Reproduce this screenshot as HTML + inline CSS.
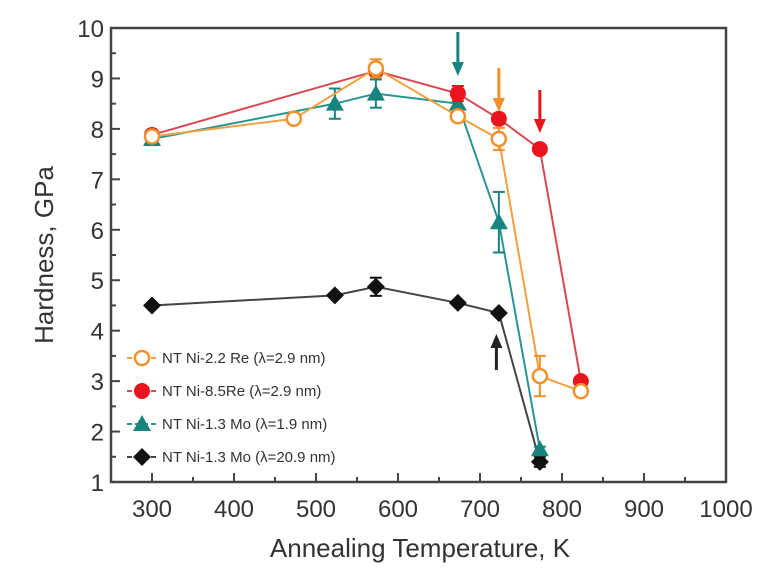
<!DOCTYPE html>
<html><head><meta charset="utf-8"><style>
html,body{margin:0;padding:0;background:#fff;}
svg{display:block;font-family:"Liberation Sans",Arial,sans-serif;}
</style></head><body>
<svg id="chart" width="781" height="588" viewBox="0 0 781 588">
<g id="plot"></g>
</svg>
<script>
const xTicks=[300,400,500,600,700,800,900,1000];
const yTicks=[1,2,3,4,5,6,7,8,9,10];
const seriesNames=["NT Ni-2.2 Re (\u03bb=2.9 nm)","NT Ni-8.5Re (\u03bb=2.9 nm)","NT Ni-1.3 Mo (\u03bb=1.9 nm)","NT Ni-1.3 Mo (\u03bb=20.9 nm)"];
const reX=[300,473,573,673,723,773,823];
const reY=[7.85,8.2,9.2,8.25,7.8,3.1,2.8];
const reErr=[0,0,0.18,0.1,0.22,0.4,0.05];
const re85X=[300,573,673,723,773,823];
const re85Y=[7.88,9.15,8.7,8.2,7.6,3.0];
const re85Err=[0,0,0.15,0.1,0,0];
const moX=[300,523,573,673,723,773];
const moY=[7.8,8.5,8.7,8.5,6.15,1.65];
const moErr=[0,0.3,0.28,0.1,0.6,0.05];
const mo2X=[300,523,573,673,723,773];
const mo2Y=[4.5,4.7,4.87,4.55,4.35,1.4];
const mo2Err=[0,0,0.18,0,0,0.1];
const arrowX=[673,723,773,723];

const L=111,R=726,T=28,B=482;
const sx=v=>L+(v-250)/750*(R-L);
const sy=v=>B-(v-1)/9*(B-T);
const NS="http://www.w3.org/2000/svg";
const g=document.getElementById('plot');
function mk(tag,attrs,parent){const e=document.createElementNS(NS,tag);for(const k in attrs)e.setAttribute(k,attrs[k]);(parent||g).appendChild(e);return e;}

let fr=mk('rect',{x:L,y:T,width:R-L,height:B-T,fill:'none',stroke:'#444','stroke-width':2.5});



xTicks.forEach(t=>{
  const x=sx(t);
  let tk=mk('line',{x1:x,x2:x,y1:B,y2:B-9,stroke:'#444','stroke-width':2});
  
  
  let m=mk('line',{x1:sx(t-50),x2:sx(t-50),y1:B,y2:B-5,stroke:'#444','stroke-width':2});
  
  
  let tx=mk('text',{x:x,y:B+35,'text-anchor':'middle','font-size':24,fill:'#333'});
  tx.textContent=t;
  
  
});
yTicks.forEach(t=>{
  const y=sy(t);
  let tk=mk('line',{x1:L,x2:L+9,y1:y,y2:y,stroke:'#444','stroke-width':2});
  
  
  if(t<10){let m=mk('line',{x1:L,x2:L+5,y1:sy(t+0.5),y2:sy(t+0.5),stroke:'#444','stroke-width':2});
  
  }
  let tx=mk('text',{x:L-7,y:y+9,'text-anchor':'end','font-size':24,fill:'#333'});
  tx.textContent=t;
  
  
});
let xt=mk('text',{x:420,y:557,'text-anchor':'middle','font-size':26,fill:'#333'});
xt.textContent='Annealing Temperature, K';


let yt=mk('text',{x:0,y:0,'text-anchor':'middle','font-size':26,fill:'#333',transform:'translate(53,255) rotate(-90)'});
yt.textContent='Hardness, GPa';



function marker(type,x,y,color,parent){
  let e;
  if(type==='open') e=mk('circle',{cx:x,cy:y,r:7,fill:'#fff',stroke:color,'stroke-width':2.5},parent);
  else if(type==='ball') e=mk('circle',{cx:x,cy:y,r:8,fill:color},parent);
  else if(type==='tri') e=mk('polygon',{points:`${x},${y-9} ${x-9},${y+7} ${x+9},${y+7}`,fill:color},parent);
  else e=mk('polygon',{points:`${x},${y-9} ${x+9},${y} ${x},${y+9} ${x-9},${y}`,fill:color},parent);
  return e;
}
const series=[
 {xs:reX,ys:reY,err:reErr,c:'#f0912a',lc:'#f2a040',t:'open',n:'series-ni-2-2-re'},
 {xs:re85X,ys:re85Y,err:re85Err,c:'#e8141e',lc:'#d84a52',t:'ball',n:'series-ni-8-5-re'},
 {xs:moX,ys:moY,err:moErr,c:'#17857f',lc:'#2a9590',t:'tri',n:'series-ni-1-3-mo-1-9'},
 {xs:mo2X,ys:mo2Y,err:mo2Err,c:'#111',lc:'#444',t:'dia',n:'series-ni-1-3-mo-20-9'}
];
[3,2,1,0].forEach(i=>{
  const s=series[i];
  const sg=mk('g',{});
  
  
  const pts=s.xs.map((x,j)=>sx(x)+','+sy(s.ys[j])).join(' ');
  mk('polyline',{points:pts,fill:'none',stroke:s.lc,'stroke-width':2},sg);
  s.xs.forEach((x,j)=>{
    if(s.err[j]>0){
      const X=sx(x),y1=sy(s.ys[j]+s.err[j]),y2=sy(s.ys[j]-s.err[j]);
      mk('line',{x1:X,x2:X,y1:y1,y2:y2,stroke:s.c,'stroke-width':2},sg);
      mk('line',{x1:X-6,x2:X+6,y1:y1,y2:y1,stroke:s.c,'stroke-width':2},sg);
      mk('line',{x1:X-6,x2:X+6,y1:y2,y2:y2,stroke:s.c,'stroke-width':2},sg);
    }
    const m=marker(s.t,sx(x),sy(s.ys[j]),s.c,sg);
    
    
  });
});
const arrowDefs=[
 {x:arrowX[0],y1:32,y2:76,c:'#17857f'},
 {x:arrowX[1],y1:68,y2:112,c:'#f0912a'},
 {x:arrowX[2],y1:90,y2:133,c:'#e8141e'},
 {x:arrowX[3]-3,y1:370,y2:334,c:'#222'}
];
arrowDefs.forEach(a=>{
  const ag=mk('g',{});
  
  
  const X=sx(a.x), dir=a.y2>a.y1?1:-1;
  mk('line',{x1:X,x2:X,y1:a.y1,y2:a.y2-dir*12,stroke:a.c,'stroke-width':3},ag);
  mk('polygon',{points:`${X-6},${a.y2-dir*14} ${X+6},${a.y2-dir*14} ${X},${a.y2}`,fill:a.c},ag);
});
const lg=mk('g',{});


seriesNames.forEach((nm,i)=>{
  const s=series[i];const y=358+i*33;
  const eg=mk('g',{},lg);
  
  
  mk('line',{x1:127,x2:158,y1:y,y2:y,stroke:s.lc,'stroke-width':2,'stroke-dasharray':'5,3'},eg);
  marker(s.t,142,y,s.c,eg);
  const tx=mk('text',{x:162,y:y+5,'font-size':15,fill:'#333'},eg);
  tx.textContent=nm;
});
</script>
</body></html>
